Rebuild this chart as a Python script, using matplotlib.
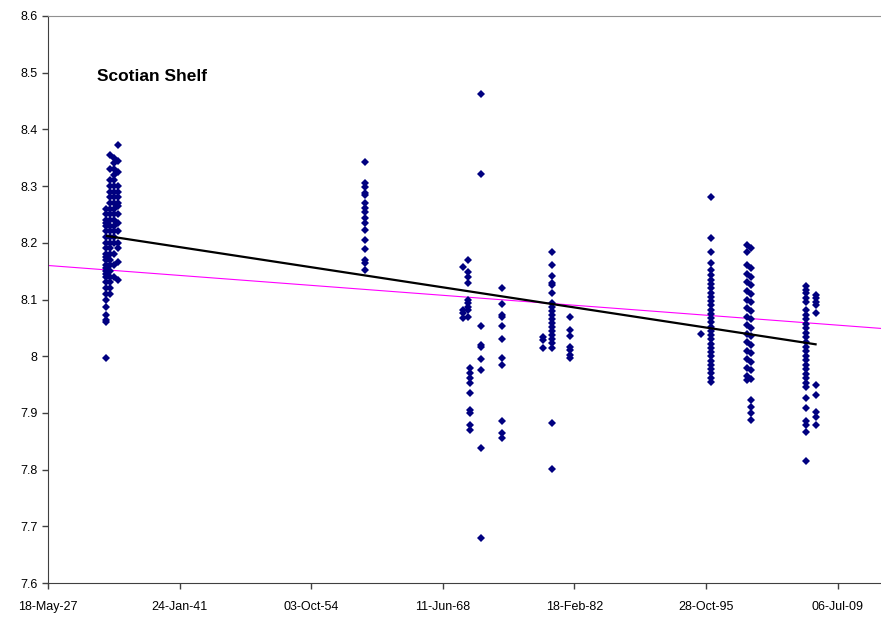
import numpy as np
import matplotlib
matplotlib.use("Agg")
import matplotlib.pyplot as plt
import matplotlib.dates as mdates

# ---- sampling cruises: date + pH values ----
d1933a = "1933-05-31"
ph1933a = [8.26, 8.25, 8.24, 8.23, 8.22, 8.21, 8.20, 8.19, 8.18, 8.17, 8.16,
           8.15, 8.14, 8.13, 8.12, 8.11, 8.10, 8.087, 8.073, 8.064, 8.06,
           7.997, 8.145, 8.155, 8.175, 8.235]
d1933b = "1933-10-30"
ph1933b = [8.355, 8.33, 8.31, 8.29, 8.27, 8.25, 8.23, 8.21, 8.19, 8.17, 8.15,
           8.13, 8.12, 8.11, 8.14, 8.16, 8.18, 8.20, 8.22, 8.24, 8.26, 8.28, 8.30]
d1934a = "1934-03-31"
ph1934a = [8.35, 8.34, 8.32, 8.30, 8.28, 8.26, 8.24, 8.22, 8.20, 8.18, 8.16,
           8.14, 8.25, 8.27, 8.29, 8.31, 8.33, 8.21, 8.23]
d1934b = "1934-08-30"
ph1934b = [8.372, 8.345, 8.325, 8.30, 8.28, 8.265, 8.25, 8.235, 8.22, 8.20,
           8.167, 8.19, 8.135, 8.27, 8.29]

d1960 = "1960-05-11"
ph1960 = [8.343, 8.305, 8.299, 8.288, 8.284, 8.270, 8.261, 8.255, 8.244,
          8.235, 8.222, 8.205, 8.189, 8.170, 8.165, 8.152]

d1970 = "1970-07-11"
ph1970 = [8.158, 8.081, 8.076, 8.067]
d1971a = "1971-01-16"
ph1971a = [8.170, 8.149, 8.140, 8.129, 8.099, 8.094, 8.087, 8.081, 8.070]
d1971b = "1971-04-02"
ph1971b = [7.979, 7.970, 7.962, 7.953, 7.935, 7.905, 7.900, 7.879, 7.870]
d1972 = "1972-05-25"
ph1972 = [8.462, 8.321, 8.053, 8.020, 8.017, 7.995, 7.976, 7.838, 7.679]
d1974 = "1974-08-01"
ph1974 = [8.120, 8.092, 8.073, 8.070, 8.053, 8.030, 7.997, 7.984, 7.886,
          7.865, 7.855]

d1978 = "1978-11-05"
ph1978 = [8.033, 8.029, 8.014]
d1979 = "1979-10-13"
ph1979 = [8.183, 8.161, 8.141, 8.129, 8.126, 8.112, 8.094, 8.087, 8.080,
          8.073, 8.066, 8.059, 8.052, 8.045, 8.038, 8.031, 8.023, 8.014,
          7.883, 7.801]
d1981 = "1981-08-27"
ph1981 = [8.069, 8.046, 8.036, 8.017, 8.011, 8.002, 7.996]

d1995 = "1995-04-21"
ph1995 = [8.039]
d1996 = "1996-05-05"
ph1996 = [8.281, 8.208, 8.183, 8.164, 8.152, 8.143, 8.135, 8.128, 8.120,
          8.112, 8.105, 8.098, 8.090, 8.082, 8.075, 8.068, 8.060, 8.052,
          8.045, 8.038, 8.030, 8.022, 8.015, 8.008, 8.000, 7.992, 7.985,
          7.978, 7.970, 7.962, 7.955]

d2000a = "2000-01-20"
ph2000a = [8.196, 8.184, 8.160, 8.145, 8.130, 8.115, 8.100, 8.085, 8.070,
           8.055, 8.040, 8.025, 8.010, 7.995, 7.980, 7.965, 7.958]
d2000b = "2000-07-10"
ph2000b = [8.190, 8.155, 8.140, 8.125, 8.110, 8.095, 8.080, 8.065, 8.050,
           8.035, 8.020, 8.005, 7.990, 7.975, 7.960, 7.923, 7.911, 7.899, 7.888]

d2006 = "2006-03-08"
ph2006 = [8.123, 8.117, 8.111, 8.102, 8.096, 8.081, 8.073, 8.065, 8.057,
          8.049, 8.041, 8.033, 8.025, 8.017, 8.009, 8.001, 7.993, 7.985,
          7.977, 7.969, 7.961, 7.953, 7.945, 7.926, 7.909, 7.885, 7.879,
          7.867, 7.816]
d2007 = "2007-03-23"
ph2007 = [8.108, 8.102, 8.096, 8.090, 8.076, 7.949, 7.932, 7.902, 7.893, 7.879]

cruises = [
    (d1933a, ph1933a), (d1933b, ph1933b), (d1934a, ph1934a), (d1934b, ph1934b),
    (d1960, ph1960),
    (d1970, ph1970), (d1971a, ph1971a), (d1971b, ph1971b), (d1972, ph1972),
    (d1974, ph1974),
    (d1978, ph1978), (d1979, ph1979), (d1981, ph1981),
    (d1995, ph1995), (d1996, ph1996),
    (d2000a, ph2000a), (d2000b, ph2000b),
    (d2006, ph2006), (d2007, ph2007),
]

# linear trend of the data (black) and reference trend (magenta)
trend_dates = ["1933-07-06", "2007-03-23"]
trend_ph = [8.212, 8.021]
ref_dates = ["1927-05-18", "2014-01-11"]
ref_ph = [8.160, 8.049]

# ---- figure ----
plt.rcParams["font.family"] = ["Liberation Sans", "DejaVu Sans"]

fig = plt.figure(figsize=(8.81, 6.19), dpi=100)
ax = fig.add_axes([48 / 881, 36 / 619, 833 / 881, 567 / 619])

xs, ys = [], []
for d, vals in cruises:
    xs += [np.datetime64(d)] * len(vals)
    ys += vals
ax.plot(np.array(xs), ys, linestyle="none", marker="D", markersize=4.3,
        color="#000080", markeredgewidth=0, zorder=3)

ax.plot(np.array(ref_dates, dtype="datetime64[D]"), ref_ph,
        color="#FF00FF", linewidth=0.8, zorder=2)
ax.plot(np.array(trend_dates, dtype="datetime64[D]"), trend_ph,
        color="black", linewidth=1.6, zorder=4)

# axes, Excel style: ticks every 5000 days from 18-May-27
ticks = np.datetime64("1927-05-18") + np.arange(7) * np.timedelta64(5000, "D")
ax.set_xticks(ticks)
ax.xaxis.set_major_formatter(mdates.DateFormatter("%d-%b-%y"))
ax.set_xlim(np.datetime64("1927-05-18"), np.datetime64("2014-01-11"))

ax.set_ylim(7.6, 8.6)
yt = np.round(np.arange(7.6, 8.61, 0.1), 1)
ax.set_yticks(yt)
ax.set_yticklabels([f"{v:g}" for v in yt])

ax.tick_params(direction="out", length=4, width=1, color="#404040",
               labelsize=9, labelcolor="black")
ax.tick_params(axis="x", pad=9)
ax.spines["right"].set_visible(False)
ax.spines["top"].set_color("#909090")
ax.spines["left"].set_color("#404040")
ax.spines["bottom"].set_color("#404040")

ax.text(0.059, 0.893, "Scotian Shelf", transform=ax.transAxes,
        fontsize=12.5, fontweight="bold", va="center", ha="left")

fig.savefig("out.png", dpi=100)
